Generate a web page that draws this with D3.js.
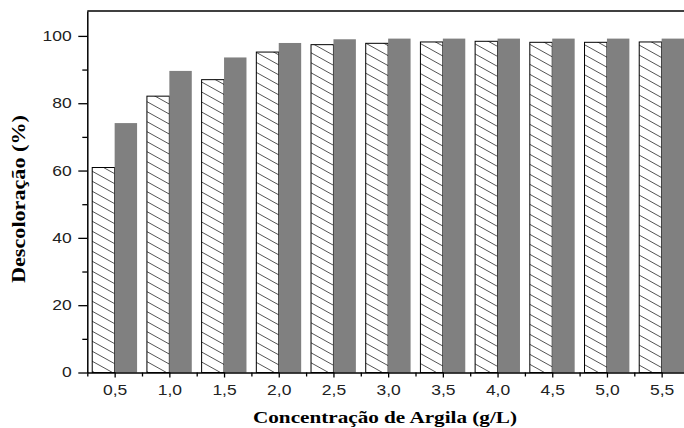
<!DOCTYPE html>
<html>
<head>
<meta charset="utf-8">
<script src="https://cdn.jsdelivr.net/npm/d3@7/dist/d3.min.js"></script>
<style>
  html, body { margin: 0; padding: 0; background: #fff; }
  svg { display: block; }
</style>
</head>
<body>
<svg id="chart" width="684" height="428"></svg>
<script>
// Clay concentration (g/L) and discoloration (%) for the two series
const concentrations = [0.5, 1.0, 1.5, 2.0, 2.5, 3.0, 3.5, 4.0, 4.5, 5.0, 5.5];
const hatchedSeries = [60.9, 82.1, 87.0, 95.2, 97.4, 97.8, 98.2, 98.4, 98.1, 98.1, 98.2];
const graySeries   = [74.1, 89.6, 93.6, 97.9, 99.0, 99.2, 99.2, 99.2, 99.2, 99.2, 99.2];
const xTickLabels = ["0,5", "1,0", "1,5", "2,0", "2,5", "3,0", "3,5", "4,0", "4,5", "5,0", "5,5"];
const yTicks = [0, 20, 40, 60, 80, 100];
const yMinorTicks = [10, 30, 50, 70, 90];
const xMinorTicks = [0.25, 0.75, 1.25, 1.75, 2.25, 2.75, 3.25, 3.75, 4.25, 4.75, 5.25, 5.75];

const svg = d3.select("#chart");
const plotLeft = 87.3, plotTop = 11, plotBottom = 372.5;
const x = d3.scaleLinear().domain([0.25, 5.75]).range([plotLeft, plotLeft + 11 * 54.7]);
const y = d3.scaleLinear().domain([0, 107.4]).range([plotBottom, plotTop]);
const barW = 0.205; // bar width in x units
const stretch = 1.25;

// diagonal hatch fill
const defs = svg.append("defs");
const pat = defs.append("pattern")
  .attr("id", "hatch").attr("patternUnits", "userSpaceOnUse")
  .attr("width", 18).attr("height", 10);
pat.append("rect").attr("width", 18).attr("height", 10).attr("fill", "#fff");
pat.append("path")
  .attr("d", "M-1.8,-1L19.8,11M-19.8,-1L1.8,11M16.2,-1L37.8,11")
  .attr("stroke", "#555").attr("stroke-width", 1);

// bars
svg.append("g").selectAll("rect").data(concentrations).join("rect")
  .attr("x", (d) => x(d - barW))
  .attr("y", (d, i) => y(hatchedSeries[i]))
  .attr("width", (d) => x(d) - x(d - barW))
  .attr("height", (d, i) => y(0) - y(hatchedSeries[i]))
  .attr("fill", "url(#hatch)")
  .attr("stroke", "#000").attr("stroke-width", 1);

svg.append("g").selectAll("rect").data(concentrations).join("rect")
  .attr("x", (d) => x(d))
  .attr("y", (d, i) => y(graySeries[i]))
  .attr("width", (d) => x(d + barW) - x(d))
  .attr("height", (d, i) => y(0) - y(graySeries[i]))
  .attr("fill", "#808080");

// frame: top border
svg.append("line")
  .attr("x1", x(0.25)).attr("x2", x(5.75))
  .attr("y1", y(107.4)).attr("y2", y(107.4))
  .attr("stroke", "#000").attr("stroke-width", 1.5);

// x axis
const xAxis = svg.append("g").attr("transform", `translate(0,${plotBottom})`);
xAxis.append("g")
  .call(d3.axisBottom(x).tickValues(xMinorTicks).tickSize(4).tickFormat(""))
  .call((g) => g.select(".domain").remove())
  .selectAll("line").attr("stroke-width", 1.3);
const xMain = xAxis.append("g")
  .call(d3.axisBottom(x).tickValues(concentrations).tickSize(5).tickSizeOuter(0)
    .tickFormat((d, i) => xTickLabels[i]));
xMain.select(".domain").attr("stroke-width", 1.5);
xMain.selectAll("line").attr("stroke-width", 1.3);
xMain.selectAll("text")
  .attr("y", 13).attr("dy", "0.71em")
  .attr("transform", `scale(${stretch},1)`)
  .attr("font-family", "Liberation Sans, Arial, sans-serif")
  .attr("font-size", 14).attr("fill", "#222");

// y axis
const yAxis = svg.append("g").attr("transform", `translate(${plotLeft},0)`);
yAxis.append("g")
  .call(d3.axisLeft(y).tickValues(yMinorTicks).tickSize(5).tickFormat(""))
  .call((g) => g.select(".domain").remove())
  .selectAll("line").attr("stroke-width", 1.3);
const yMain = yAxis.append("g")
  .call(d3.axisLeft(y).tickValues(yTicks).tickSize(9).tickSizeOuter(0));
yMain.select(".domain").attr("stroke-width", 1.5);
yMain.selectAll("line").attr("stroke-width", 1.3);
yMain.selectAll("text")
  .attr("x", -12.5)
  .attr("transform", `scale(${stretch},1)`)
  .attr("font-family", "Liberation Sans, Arial, sans-serif")
  .attr("font-size", 14).attr("fill", "#222");

// axis titles
svg.append("text")
  .attr("x", 385).attr("y", 423)
  .attr("text-anchor", "middle")
  .attr("font-family", "Liberation Serif, Times New Roman, serif")
  .attr("font-weight", "bold").attr("font-size", 16)
  .attr("textLength", 264).attr("lengthAdjust", "spacingAndGlyphs")
  .text("Concentração de Argila (g/L)");

svg.append("text")
  .attr("transform", "translate(25,199) rotate(-90)")
  .attr("text-anchor", "middle")
  .attr("font-family", "Liberation Serif, Times New Roman, serif")
  .attr("font-weight", "bold").attr("font-size", 18)
  .attr("textLength", 168).attr("lengthAdjust", "spacingAndGlyphs")
  .text("Descoloração (%)");
</script>
</body>
</html>
